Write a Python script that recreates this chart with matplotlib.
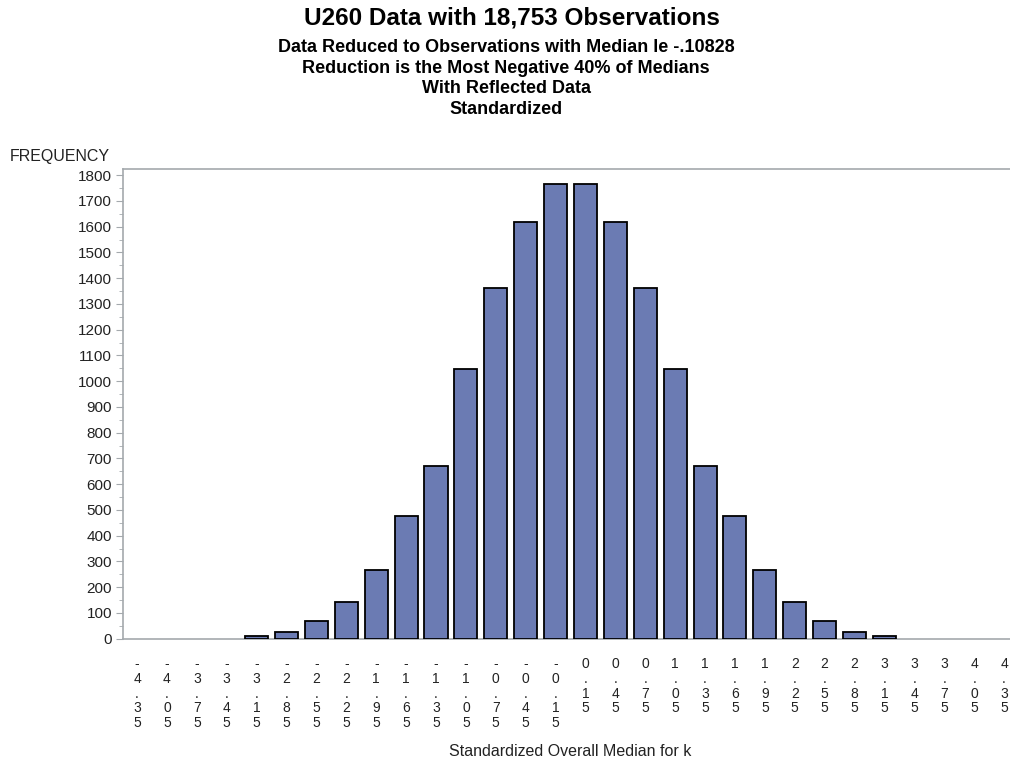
import matplotlib
matplotlib.use("Agg")
import matplotlib.pyplot as plt
from matplotlib.ticker import MultipleLocator

plt.rcParams['font.family'] = ['Liberation Sans', 'DejaVu Sans']

categories = ["-4.35", "-4.05", "-3.75", "-3.45", "-3.15", "-2.85", "-2.55", "-2.25",
              "-1.95", "-1.65", "-1.35", "-1.05", "-0.75", "-0.45", "-0.15",
              "0.15", "0.45", "0.75", "1.05", "1.35", "1.65", "1.95", "2.25",
              "2.55", "2.85", "3.15", "3.45", "3.75", "4.05", "4.35"]
frequency = [0, 0, 0, 0, 9, 25, 69, 143, 268, 477, 672, 1048, 1360, 1617, 1767,
             1767, 1617, 1360, 1048, 672, 477, 268, 143, 69, 25, 9, 0, 0, 0, 0]

title = "U260 Data with 18,753 Observations"
subtitles = ["Data Reduced to Observations with Median le -.10828",
             "Reduction is the Most Negative 40% of Medians",
             "With Reflected Data",
             "Standardized"]
xlabel = "Standardized Overall Median for k"
ylabel = "FREQUENCY"

W, H = 1010, 763
fig = plt.figure(figsize=(W / 100, H / 100), dpi=100)
ax = fig.add_axes([123 / W, 1 - 638.7 / H, (W - 123) / W, (638.7 - 168.5) / H])

x = list(range(len(categories)))
edge_widths = [1.3 if f > 0 else 0 for f in frequency]
ax.bar(x, frequency, width=0.77, color='#6b7bb3', edgecolor='black',
       linewidth=edge_widths, zorder=3)

ax.set_xlim(-0.47, len(categories) - 1 + 0.2)
ax.set_ylim(0, 1826)
ax.yaxis.set_major_locator(MultipleLocator(100))
ax.yaxis.set_minor_locator(MultipleLocator(50))

gray = '#a4a9ad'
for s in ['left', 'bottom', 'top']:
    ax.spines[s].set_color(gray)
    ax.spines[s].set_linewidth(1.2)
ax.spines['right'].set_visible(False)

ax.tick_params(axis='y', which='major', length=5, color=gray, labelsize=11, labelcolor='#222222', pad=3)
ax.tick_params(axis='y', which='minor', length=3, color=gray)

ax.set_xticks(x)
ax.set_xticklabels(["\n".join(list(c)) for c in categories], fontsize=10, linespacing=1.08,
                   color='#222222')
ax.tick_params(axis='x', length=0, pad=13)

fig.text(10 / W, 1 - 157 / H, ylabel, fontsize=11.5, ha='left', va='center', color='#222222')
fig.text(570 / W, 1 - 751 / H, xlabel, fontsize=11.5, ha='center', va='center', color='#222222')

fig.text(512 / W, 1 - 18 / H, title, fontsize=17.5, fontweight='bold', ha='center', va='center')
for i, s in enumerate(subtitles):
    fig.text(506 / W, 1 - (47.5 + 20.7 * i) / H, s, fontsize=13, fontweight='bold', ha='center', va='center')

fig.savefig("out.png", dpi=100)
